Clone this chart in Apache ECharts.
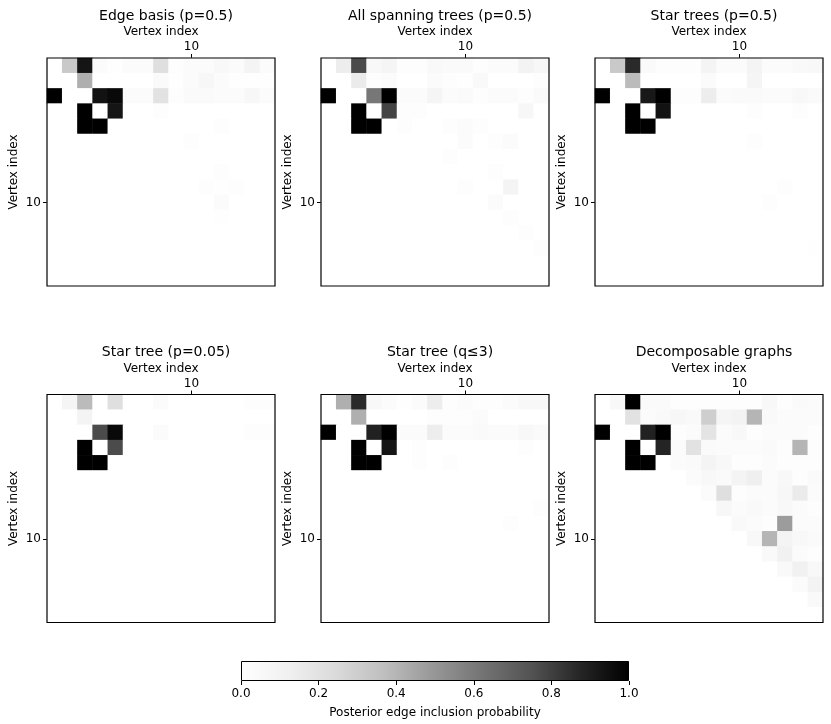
<!DOCTYPE html>
<html>
<head>
<meta charset="utf-8">
<script src="https://cdn.jsdelivr.net/npm/echarts@6/dist/echarts.min.js"></script>
<style>
  html, body { margin: 0; padding: 0; background: #fff; }
  #main { width: 831px; height: 724px; }
</style>
</head>
<body>
<div id="main"></div>
<script>
// vertex labels (1-based)
var vertices = ['1','2','3','4','5','6','7','8','9','10','11','12','13','14','15'];

var titles = ['Edge basis (p=0.5)', 'All spanning trees (p=0.5)', 'Star trees (p=0.5)',
              'Star tree (p=0.05)', 'Star tree (q\u22643)', 'Decomposable graphs'];

var colorTicks = [0, 0.2, 0.4, 0.6, 0.8, 1.0];

// posterior edge inclusion probabilities, row = vertex (top to bottom), col = vertex (left to right)
var edgeBasis = [
  [0,.32,.93,.03,.01,.03,.03,.22,.02,.03,.03,.06,.03,.09,.03],
  [0,0,.42,0,0,0,0,.04,.01,.03,.07,.03,.01,.01,.01],
  [1,0,0,.94,.97,.03,.03,.20,.02,.04,.04,.03,.03,.07,.03],
  [0,0,1,0,.93,0,0,.02,0,0,0,0,0,0,0],
  [0,0,1,1,0,0,0,0,0,0,0,.02,0,0,0],
  [0,0,0,0,0,0,0,0,0,.02,0,0,0,0,0],
  [0,0,0,0,0,0,0,0,0,0,0,0,0,0,0],
  [0,0,0,0,0,0,0,0,0,0,0,.015,0,0,0],
  [0,0,0,0,0,0,0,0,0,0,.015,.01,.015,0,0],
  [0,0,0,0,0,0,0,0,0,0,0,.03,0,0,0],
  [0,0,0,0,0,0,0,0,0,0,0,.01,0,0,0],
  [0,0,0,0,0,0,0,0,0,0,0,0,0,0,0],
  [0,0,0,0,0,0,0,0,0,0,0,0,0,0,0],
  [0,0,0,0,0,0,0,0,0,0,0,0,0,0,0],
  [0,0,0,0,0,0,0,0,0,0,0,0,0,0,0]
];

var allSpanning = [
  [0,.14,.77,.06,.08,.02,.02,.05,.04,.04,.02,.03,.03,.10,.07],
  [0,0,.15,.02,.03,0,0,.03,.02,.01,.05,0,0,0,.015],
  [1,0,0,.61,1,.03,.03,.08,.03,.04,.015,.03,.03,.015,.04],
  [0,0,1,0,.79,.02,.015,0,0,0,0,0,0,.07,0],
  [0,0,1,1,0,.02,0,0,.015,.03,.015,0,0,0,0],
  [0,0,0,0,0,0,0,0,0,.03,0,.02,.03,0,0],
  [0,0,0,0,0,0,0,0,.015,0,0,0,0,0,0],
  [0,0,0,0,0,0,0,0,0,0,0,.02,0,0,0],
  [0,0,0,0,0,0,0,0,0,.015,0,0,.09,0,0],
  [0,0,0,0,0,0,0,0,0,0,0,.03,0,0,0],
  [0,0,0,0,0,0,0,0,0,0,0,0,.015,0,0],
  [0,0,0,0,0,0,0,0,0,0,0,0,0,.015,0],
  [0,0,0,0,0,0,0,0,0,0,0,0,0,0,.015],
  [0,0,0,0,0,0,0,0,0,0,0,0,0,0,0],
  [0,0,0,0,0,0,0,0,0,0,0,0,0,0,0]
];

var starTrees = [
  [0,.32,.86,.04,.015,.015,.015,.09,.03,.03,.09,.03,.03,.05,.06],
  [0,0,.38,0,0,0,0,.03,0,0,.08,0,0,0,0],
  [1,0,0,.92,1,.02,.02,.14,.03,.04,.04,.03,.03,.06,.04],
  [0,0,1,0,.94,0,0,0,0,0,.015,0,0,.015,0],
  [0,0,1,1,0,0,0,0,0,0,0,0,0,0,0],
  [0,0,0,0,0,0,0,0,0,0,.015,0,0,0,0],
  [0,0,0,0,0,0,0,0,0,0,0,0,0,0,0],
  [0,0,0,0,0,0,0,0,0,0,0,0,0,0,0],
  [0,0,0,0,0,0,0,0,0,0,0,0,.02,0,0],
  [0,0,0,0,0,0,0,0,0,0,0,.015,0,0,0],
  [0,0,0,0,0,0,0,0,0,0,0,0,0,0,0],
  [0,0,0,0,0,0,0,0,0,0,0,0,0,0,0],
  [0,0,0,0,0,0,0,0,0,0,0,0,0,0,.01],
  [0,0,0,0,0,0,0,0,0,0,0,0,0,0,0],
  [0,0,0,0,0,0,0,0,0,0,0,0,0,0,0]
];

var starTreeP005 = [
  [0,.08,.38,0,.22,0,0,.03,0,0,0,0,0,.02,.015],
  [0,0,.09,0,0,0,0,0,0,0,0,0,0,0,0],
  [0,0,0,.77,.97,0,0,.03,0,0,0,0,0,.02,.015],
  [0,0,1,0,.77,0,0,0,0,0,0,0,0,0,0],
  [0,0,1,1,0,0,0,0,0,0,0,0,0,0,0],
  [0,0,0,0,0,0,0,0,0,0,0,0,0,0,0],
  [0,0,0,0,0,0,0,0,0,0,0,0,0,0,0],
  [0,0,0,0,0,0,0,0,0,0,0,0,0,0,0],
  [0,0,0,0,0,0,0,0,0,0,0,0,0,0,0],
  [0,0,0,0,0,0,0,0,0,0,0,0,0,0,0],
  [0,0,0,0,0,0,0,0,0,0,0,0,0,0,0],
  [0,0,0,0,0,0,0,0,0,0,0,0,0,0,0],
  [0,0,0,0,0,0,0,0,0,0,0,0,0,0,0],
  [0,0,0,0,0,0,0,0,0,0,0,0,0,0,0],
  [0,0,0,0,0,0,0,0,0,0,0,0,0,0,0]
];

var starTreeQ3 = [
  [0,.42,.86,.06,.03,.01,.03,.14,.02,.03,.02,.02,.03,.06,.06],
  [0,0,.42,0,0,0,0,.02,.02,.02,.03,0,0,0,0],
  [1,0,0,.89,1,.03,.03,.14,.03,.03,.04,.03,.03,.06,.04],
  [0,0,1,0,.93,0,.015,0,0,0,0,0,0,.02,0],
  [0,0,1,1,0,0,.015,0,.02,0,0,0,0,0,0],
  [0,0,0,0,0,0,0,0,0,0,0,0,0,0,0],
  [0,0,0,0,0,0,0,0,0,0,0,0,0,0,0],
  [0,0,0,0,0,0,0,0,0,0,0,0,0,0,.02],
  [0,0,0,0,0,0,0,0,0,0,0,0,.02,0,0],
  [0,0,0,0,0,0,0,0,0,0,0,0,0,0,0],
  [0,0,0,0,0,0,0,0,0,0,0,0,0,0,0],
  [0,0,0,0,0,0,0,0,0,0,0,0,0,0,0],
  [0,0,0,0,0,0,0,0,0,0,0,0,0,0,0],
  [0,0,0,0,0,0,0,0,0,0,0,0,0,0,0],
  [0,0,0,0,0,0,0,0,0,0,0,0,0,0,0]
];

var decomposable = [
  [0,.06,1,.04,.04,.02,.02,.02,.02,.02,.02,.06,.02,.04,.03],
  [0,0,.20,.03,.05,.07,.05,.30,.08,.10,.40,.05,.03,.03,.03],
  [1,0,0,.89,1,.015,.03,.19,.03,.06,.02,.03,.03,.03,.02],
  [0,0,1,0,.88,.03,.20,.04,.03,.03,.03,.04,.02,.40,.02],
  [0,0,1,1,0,.03,.04,.09,.06,.02,.02,.03,.02,.02,.02],
  [0,0,0,0,0,0,.03,.06,.04,.09,.13,.03,.06,.02,.04],
  [0,0,0,0,0,0,0,.03,.22,.02,.03,.03,.07,.15,.03],
  [0,0,0,0,0,0,0,0,.07,.03,.05,.03,.06,.03,.02],
  [0,0,0,0,0,0,0,0,0,.05,.03,.02,.48,.03,.03],
  [0,0,0,0,0,0,0,0,0,0,.06,.40,.09,.06,.04],
  [0,0,0,0,0,0,0,0,0,0,0,.05,.12,.03,.02],
  [0,0,0,0,0,0,0,0,0,0,0,0,.05,.12,.06],
  [0,0,0,0,0,0,0,0,0,0,0,0,0,.03,.10],
  [0,0,0,0,0,0,0,0,0,0,0,0,0,0,.05],
  [0,0,0,0,0,0,0,0,0,0,0,0,0,0,0]
];

var matrices = [edgeBasis, allSpanning, starTrees, starTreeP005, starTreeQ3, decomposable];

// matplotlib "Greys"
var greys = ['#ffffff','#f0f0f0','#d9d9d9','#bdbdbd','#969696','#737373','#525252','#252525','#000000'];

var myChart = echarts.init(document.getElementById('main'));

var FONT = 'DejaVu Sans';
var panelLeft = [47, 321, 595];
var panelTop = [58, 394.5];
var SIZE = 228;

var grids = [], xAxes = [], yAxes = [], series = [], titleList = [];

var only10 = function (idx, val) { return val === '10'; };

matrices.forEach(function (m, i) {
    var col = i % 3, row = Math.floor(i / 3);
    // frame drawn above the cells
    grids.push({
        left: panelLeft[col], top: panelTop[row], width: SIZE, height: SIZE,
        show: true, borderColor: '#000', borderWidth: 1.2, backgroundColor: 'transparent', z: 5
    });
    xAxes.push({
        gridIndex: i, type: 'category', data: vertices, position: 'top',
        name: 'Vertex index', nameLocation: 'middle', nameGap: 20,
        nameTextStyle: { fontFamily: FONT, fontSize: 12, color: '#000' },
        axisLine: { show: false },
        axisTick: { show: true, interval: only10, alignWithLabel: true, length: 4, lineStyle: { color: '#000' } },
        axisLabel: { interval: only10, fontFamily: FONT, fontSize: 12, color: '#000', margin: 5 },
        splitLine: { show: false }
    });
    yAxes.push({
        gridIndex: i, type: 'category', data: vertices, inverse: true,
        name: 'Vertex index', nameLocation: 'middle', nameGap: 27, nameRotate: 90,
        nameTextStyle: { fontFamily: FONT, fontSize: 12, color: '#000' },
        axisLine: { show: false },
        axisTick: { show: true, interval: only10, alignWithLabel: true, length: 4, lineStyle: { color: '#000' } },
        axisLabel: { interval: only10, fontFamily: FONT, fontSize: 12, color: '#000', margin: 6 },
        splitLine: { show: false }
    });
    var data = [];
    m.forEach(function (r, ri) {
        r.forEach(function (v, ci) { data.push([ci, ri, v]); });
    });
    series.push({
        type: 'heatmap', xAxisIndex: i, yAxisIndex: i, data: data,
        emphasis: { disabled: true }, silent: true, progressive: 0
    });
    titleList.push({
        text: titles[i], left: panelLeft[col] + SIZE / 2, top: panelTop[row] - 54,
        textAlign: 'center',
        textStyle: { fontFamily: FONT, fontSize: 14, fontWeight: 'normal', color: '#000' }
    });
});

// colorbar
grids.push({ left: 241, top: 661, width: 388, height: 20 });
xAxes.push({
    gridIndex: 6, type: 'value', min: 0, max: 1, interval: 0.2,
    name: 'Posterior edge inclusion probability', nameLocation: 'middle', nameGap: 26,
    nameTextStyle: { fontFamily: FONT, fontSize: 12, color: '#000' },
    axisLine: { show: false },
    axisTick: { show: true, length: 4, lineStyle: { color: '#000' } },
    axisLabel: { fontFamily: FONT, fontSize: 12, color: '#000', margin: 7,
                 formatter: function (v) { return v.toFixed(1); } },
    splitLine: { show: false }
});
yAxes.push({ gridIndex: 6, type: 'category', data: ['p'], show: false });
series.push({
    type: 'bar', xAxisIndex: 6, yAxisIndex: 6, barWidth: '100%', silent: true,
    data: [colorTicks[colorTicks.length - 1]],
    itemStyle: {
        color: new echarts.graphic.LinearGradient(0, 0, 1, 0, greys.map(function (c, k) {
            return { offset: k / (greys.length - 1), color: c };
        })),
        borderColor: '#000', borderWidth: 1
    }
});

var option = {
    animation: false,
    backgroundColor: '#fff',
    title: titleList,
    grid: grids,
    xAxis: xAxes,
    yAxis: yAxes,
    visualMap: {
        type: 'continuous', min: 0, max: 1, show: false,
        seriesIndex: [0, 1, 2, 3, 4, 5],
        inRange: { color: greys }
    },
    series: series
};

myChart.setOption(option);
</script>
</body>
</html>
